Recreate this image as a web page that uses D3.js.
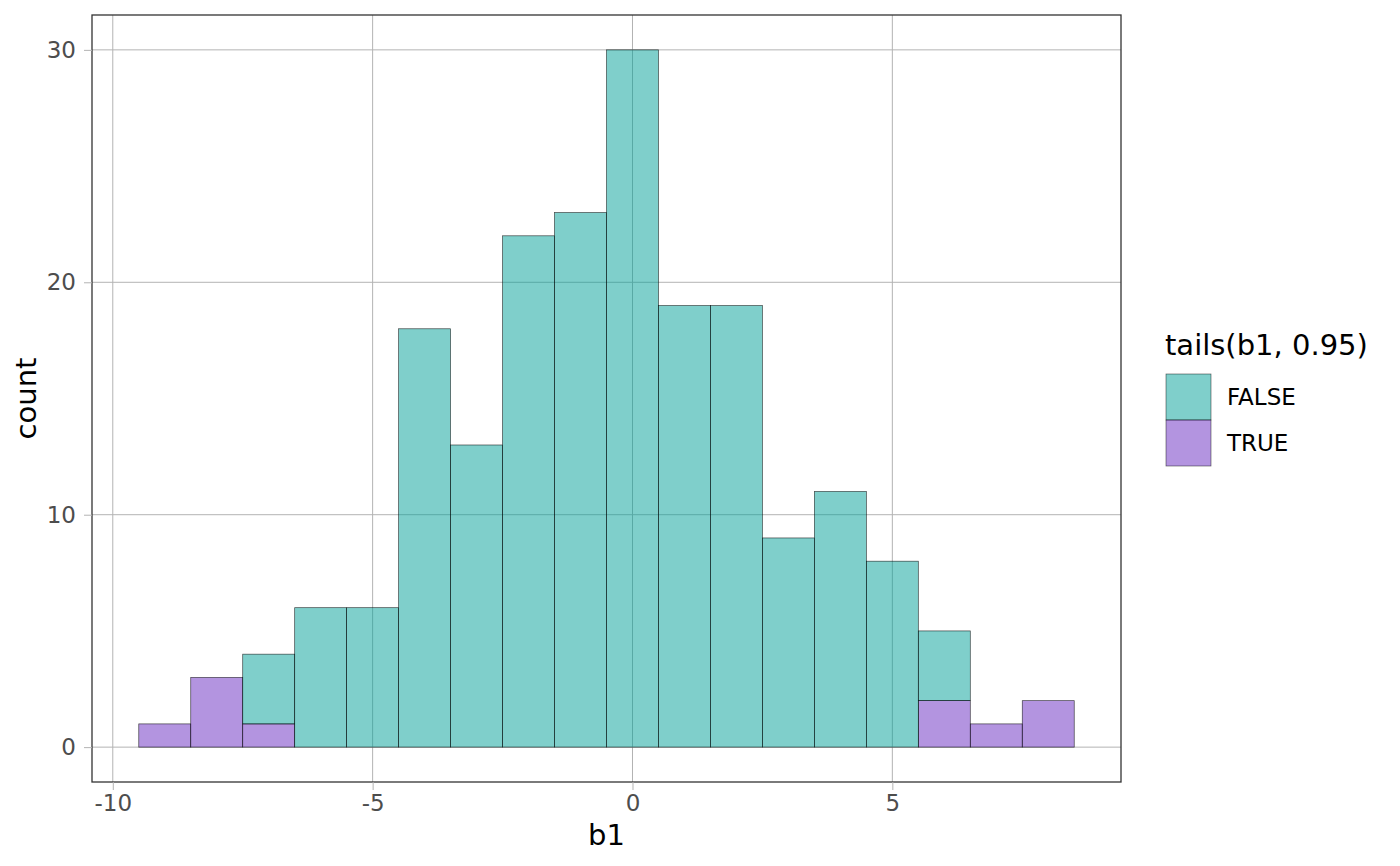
<!DOCTYPE html>
<html lang="en">
<head>
<meta charset="UTF-8">
<title>tails histogram</title>
<script src="https://d3js.org/d3.v7.min.js"></script>
<style>
  body { margin: 0; background: #fff; }
  text { font-family: "DejaVu Sans", sans-serif; }
</style>
</head>
<body>
<div id="chart"></div>
<script>
// bin centres (width 1) and counts per group
const bins = [-9, -8, -7, -6, -5, -4, -3, -2, -1, 0, 1, 2, 3, 4, 5, 6, 7, 8];
const countTrue  = [1, 3, 1, 0, 0, 0, 0, 0, 0, 0, 0, 0, 0, 0, 0, 2, 1, 2];
const countFalse = [0, 0, 3, 6, 6, 18, 13, 22, 23, 30, 19, 19, 9, 11, 8, 3, 0, 0];
const groups = ["FALSE", "TRUE"];
const xTicks = [-10, -5, 0, 5];
const yTicks = [0, 10, 20, 30];

const colour = { FALSE: "#009F97", TRUE: "#6729C1" };

const W = 1400, H = 866;
const panel = { left: 92, top: 15, right: 1121, bottom: 782 };

const svg = d3.select("#chart").append("svg")
  .attr("width", W).attr("height", H);

const x = d3.scaleLinear().domain([-10.4, 9.4]).range([panel.left, panel.right]);
const y = d3.scaleLinear().domain([-1.5, 31.5]).range([panel.bottom, panel.top]);

// grid
const grid = svg.append("g");
grid.selectAll(".gx").data(xTicks).join("line")
  .attr("x1", d => x(d)).attr("x2", d => x(d))
  .attr("y1", panel.top).attr("y2", panel.bottom)
  .attr("stroke", "#b3b3b3").attr("stroke-width", 1);
grid.selectAll(".gy").data(yTicks).join("line")
  .attr("x1", panel.left).attr("x2", panel.right)
  .attr("y1", d => y(d)).attr("y2", d => y(d))
  .attr("stroke", "#b3b3b3").attr("stroke-width", 1);

// stacked bars: TRUE at the bottom, FALSE on top
const rows = bins.map((b, i) => ({ bin: b, TRUE: countTrue[i], FALSE: countFalse[i] }));
const stack = d3.stack().keys(["TRUE", "FALSE"])(rows);

svg.append("g").selectAll("g").data(stack).join("g")
  .attr("fill", s => colour[s.key]).attr("fill-opacity", 0.5)
  .selectAll("rect").data(s => s.filter(d => d[1] > d[0])).join("rect")
  .attr("x", d => x(d.data.bin - 0.5))
  .attr("width", d => x(d.data.bin + 0.5) - x(d.data.bin - 0.5))
  .attr("y", d => y(d[1]))
  .attr("height", d => y(d[0]) - y(d[1]))
  .attr("stroke", "#000").attr("stroke-opacity", 0.7).attr("stroke-width", 0.7);

// panel border
svg.append("rect")
  .attr("x", panel.left).attr("y", panel.top)
  .attr("width", panel.right - panel.left).attr("height", panel.bottom - panel.top)
  .attr("fill", "none").attr("stroke", "#333").attr("stroke-width", 1.3);

// axes
const xAxis = svg.append("g")
  .attr("transform", `translate(0,${panel.bottom})`)
  .call(d3.axisBottom(x).tickValues(xTicks).tickSize(8).tickPadding(5).tickFormat(d3.format("d")));
const yAxis = svg.append("g")
  .attr("transform", `translate(${panel.left},0)`)
  .call(d3.axisLeft(y).tickValues(yTicks).tickSize(8).tickPadding(8));
[xAxis, yAxis].forEach(a => {
  a.select(".domain").remove();
  a.selectAll(".tick line").attr("stroke", "#b3b3b3");
  a.selectAll(".tick text").attr("fill", "#4d4d4d").style("font-size", "23px")
    .style("font-family", "DejaVu Sans, sans-serif");
});
xAxis.selectAll(".tick text").text(d => d < 0 ? "-" + Math.abs(d) : d);

// axis titles
svg.append("text").attr("x", (panel.left + panel.right) / 2).attr("y", 845)
  .attr("text-anchor", "middle").style("font-size", "29px").text("b1");
svg.append("text")
  .attr("transform", `translate(36,${(panel.top + panel.bottom) / 2}) rotate(-90)`)
  .attr("text-anchor", "middle").style("font-size", "29px").text("count");

// legend
const leg = svg.append("g").attr("transform", "translate(1166,0)");
leg.append("text").attr("x", -1).attr("y", 355).style("font-size", "29px").text("tails(b1, 0.95)");
groups.forEach((g, i) => {
  const ky = 374 + i * 46;
  leg.append("rect").attr("x", 0).attr("y", ky).attr("width", 45).attr("height", 46)
    .attr("fill", colour[g]).attr("fill-opacity", 0.5)
    .attr("stroke", "#000").attr("stroke-opacity", 0.6).attr("stroke-width", 0.7);
  leg.append("text").attr("x", 61).attr("y", ky + 23).attr("dy", "0.35em")
    .style("font-size", "23px").text(g);
});
</script>
</body>
</html>
